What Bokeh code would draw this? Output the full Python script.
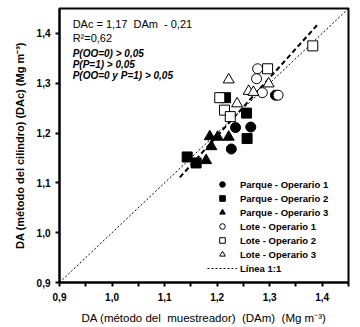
from bokeh.plotting import figure
from bokeh.models import FixedTicker, Label, Legend, LegendItem, Range1d
from bokeh.embed import file_html
from bokeh.resources import INLINE

# ---- data (DAm, DAc) ----
parque_op1_x = [1.235, 1.264, 1.227, 1.311]
parque_op1_y = [1.211, 1.212, 1.168, 1.276]
parque_op2_x = [1.143, 1.160, 1.256, 1.257, 1.216]
parque_op2_y = [1.152, 1.140, 1.240, 1.189, 1.271]
parque_op3_x = [1.186, 1.201, 1.222, 1.189, 1.179]
parque_op3_y = [1.193, 1.192, 1.192, 1.173, 1.145]
lote_op1_x = [1.277, 1.275, 1.286, 1.316]
lote_op1_y = [1.329, 1.309, 1.281, 1.276]
lote_op2_x = [1.296, 1.382, 1.205, 1.214, 1.225]
lote_op2_y = [1.329, 1.375, 1.271, 1.246, 1.233]
lote_op3_x = [1.222, 1.260, 1.269, 1.298, 1.238]
lote_op3_y = [1.307, 1.284, 1.282, 1.299, 1.259]

slope = 1.17
intercept = -0.21
reg_x = [1.129, 1.39]
one_x = [0.9, 1.45]

ticks = [0.9, 1.0, 1.1, 1.2, 1.3, 1.4]
tick_labels = ["0,9", "1,0", "1,1", "1,2", "1,3", "1,4"]
minor = [0.95, 1.05, 1.15, 1.25, 1.35, 1.45]

FONT = "Liberation Sans"
NB = "\u00a0"

p = figure(width=360, height=327, output_backend="svg", toolbar_location=None,
           x_range=Range1d(0.9, 1.45), y_range=Range1d(0.9, 1.45),
           min_border_left=59, min_border_right=12, min_border_top=8, min_border_bottom=45)
p.grid.visible = False
p.background_fill_color = "white"
p.border_fill_color = "white"
p.outline_line_color = "black"
p.outline_line_width = 2

for ax in (p.xaxis[0], p.yaxis[0]):
    ax.axis_line_width = 2
    ax.axis_line_color = "black"
    ax.major_tick_in = 0
    ax.major_tick_out = 4
    ax.major_tick_line_width = 2
    ax.minor_tick_in = 0
    ax.minor_tick_out = 4
    ax.minor_tick_line_width = 2
    ax.major_label_text_font = FONT
    ax.major_label_text_font_style = "bold"
    ax.major_label_text_font_size = "10px"
    ax.major_label_text_color = "black"
    ax.major_label_overrides = {t: l for t, l in zip(ticks, tick_labels)}
    ax.axis_label_text_font = FONT
    ax.axis_label_text_color = "black"

p.xaxis[0].ticker = FixedTicker(ticks=ticks, minor_ticks=minor)
p.yaxis[0].ticker = FixedTicker(ticks=ticks)
p.xaxis[0].axis_label = ("DA (método" + NB + "del" + NB + NB + "muestreador)" + NB + NB +
                         "(DAm)" + NB + NB + "(Mg m⁻³)")
p.xaxis[0].axis_label_text_font_style = "normal"
p.xaxis[0].axis_label_text_font_size = "11.5px"
p.yaxis[0].axis_label = "DA (método del cilindro) (DAc) (Mg m⁻³)"
p.yaxis[0].axis_label_text_font_style = "bold"
p.yaxis[0].axis_label_text_font_size = "11px"
p.xaxis[0].major_label_standoff = 6
p.xaxis[0].axis_label_standoff = 8
p.yaxis[0].major_label_standoff = 5
p.yaxis[0].axis_label_standoff = 8

# 1:1 line
l11 = p.line(one_x, one_x, line_color="black", line_width=1, line_dash="2 2")
# regression line
p.line(reg_x, [slope * x + intercept for x in reg_x], line_color="black",
       line_width=2, line_dash="5 3")

r1 = p.scatter(parque_op1_x, parque_op1_y, marker="circle", size=10,
               fill_color="black", line_color="black")
r2 = p.scatter(parque_op2_x, parque_op2_y, marker="square", size=10,
               fill_color="black", line_color="black")
r3 = p.scatter(parque_op3_x, parque_op3_y, marker="triangle", size=11,
               fill_color="black", line_color="black")
r4 = p.scatter(lote_op1_x, lote_op1_y, marker="circle", size=10,
               fill_color="white", line_color="black")
r5 = p.scatter(lote_op2_x, lote_op2_y, marker="square", size=10,
               fill_color="white", line_color="black")
r6 = p.scatter(lote_op3_x, lote_op3_y, marker="triangle", size=11,
               fill_color="white", line_color="black")

legend = Legend(items=[
    LegendItem(label="Parque - Operario 1", renderers=[r1]),
    LegendItem(label="Parque - Operario 2", renderers=[r2]),
    LegendItem(label="Parque - Operario 3", renderers=[r3]),
    LegendItem(label="Lote - Operario 1", renderers=[r4]),
    LegendItem(label="Lote - Operario 2", renderers=[r5]),
    LegendItem(label="Lote - Operario 3", renderers=[r6]),
    LegendItem(label="Línea 1:1", renderers=[l11]),
], location=(148, 7))
legend.padding = 0
legend.margin = 0
legend.spacing = 0
legend.label_height = 14
legend.glyph_height = 14
legend.glyph_width = 30
legend.label_standoff = 3
legend.label_text_font = FONT
legend.label_text_font_style = "bold"
legend.label_text_font_size = "9.5px"
legend.label_text_color = "black"
legend.border_line_color = None
legend.background_fill_alpha = 0
p.add_layout(legend)

# annotations
texts = [
    ("DAc = 1,17" + NB + NB + "DAm" + NB + " -" + NB + "0,21", 1.418, "11px", "normal"),
    ("R²=0,62", 1.390, "11px", "normal"),
    ("P(OO=0) > 0,05", 1.360, "10px", "bold italic"),
    ("P(P=1) > 0,05", 1.338, "10px", "bold italic"),
    ("P(OO=0 y P=1) > 0,05", 1.316, "10px", "bold italic"),
]
for t, yy, fs, st in texts:
    p.add_layout(Label(x=0.925, y=yy, text=t, text_font=FONT, text_font_size=fs,
                       text_font_style=st, text_color="black", text_baseline="middle"))

open("out.html", "w").write(file_html(p, INLINE))
